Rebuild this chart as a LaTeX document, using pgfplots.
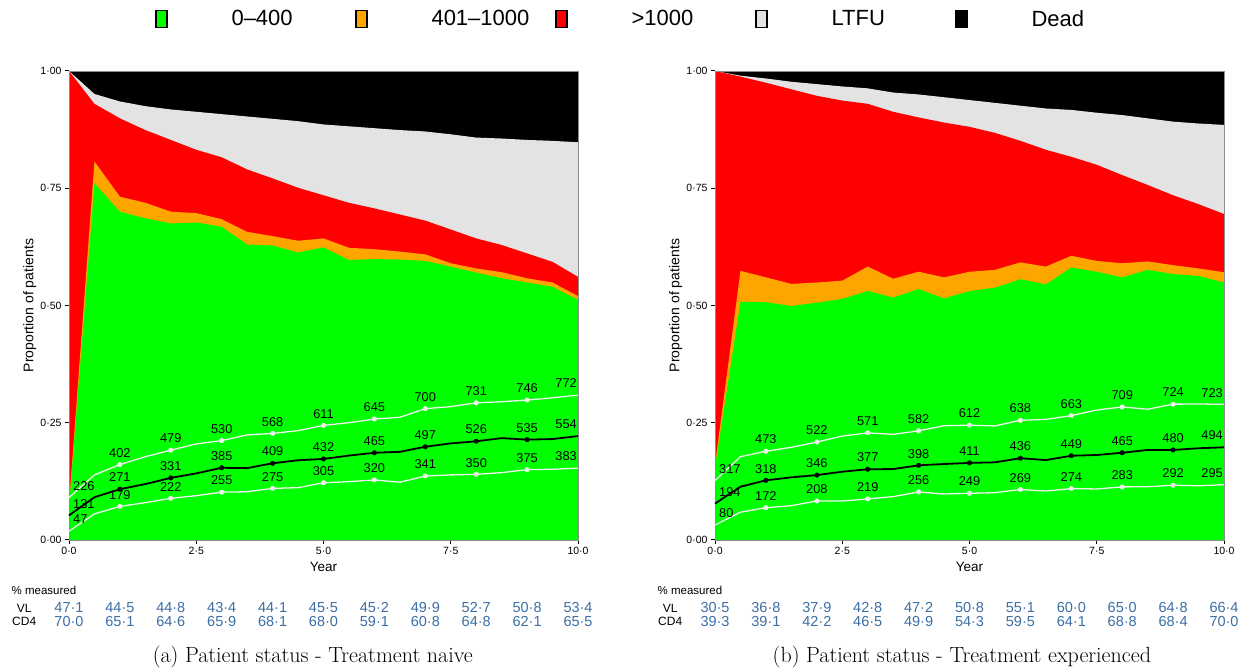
\documentclass[border=0pt]{standalone}
\usepackage{pgfplots}
\pgfplotsset{compat=1.18}
\usepackage{pgfplotstable}
\usepackage{fontspec}
\newfontfamily\lsans{Liberation Sans}
\newcommand{\fs}[1]{\lsans\fontsize{#1bp}{#1bp}\selectfont}

\definecolor{cgreen}{RGB}{0,255,0}
\definecolor{corange}{RGB}{255,165,0}
\definecolor{cred}{RGB}{255,0,0}
\definecolor{cltfu}{RGB}{227,227,227}
\definecolor{cwhite}{RGB}{240,240,240}
\definecolor{cblue}{RGB}{60,110,165}
\definecolor{cframe}{RGB}{140,140,140}

% status boundaries: lt = top of LTFU, rd = top of >1000, or = top of 401-1000, gr = top of 0-400
\pgfplotstableread{
t    lt    rd    or    gr
0    1.000 1.000 0.075 0.070
0.5  0.951 0.930 0.807 0.761
1    0.935 0.899 0.732 0.700
1.5  0.925 0.874 0.719 0.686
2    0.918 0.853 0.700 0.675
2.5  0.913 0.832 0.697 0.677
3    0.908 0.816 0.684 0.668
3.5  0.903 0.790 0.657 0.630
4    0.898 0.771 0.648 0.628
4.5  0.893 0.751 0.638 0.613
5    0.886 0.735 0.643 0.624
5.5  0.882 0.719 0.623 0.597
6    0.878 0.707 0.620 0.599
6.5  0.874 0.694 0.615 0.598
7    0.871 0.681 0.609 0.595
7.5  0.865 0.662 0.590 0.583
8    0.858 0.643 0.579 0.570
8.5  0.856 0.629 0.571 0.558
9    0.853 0.611 0.558 0.549
9.5  0.851 0.593 0.549 0.540
10   0.848 0.561 0.520 0.512
}\naivestat

\pgfplotstableread{
t    lt    rd    or    gr
0    1.000 1.000 0.160 0.155
0.5  0.990 0.988 0.574 0.508
1    0.984 0.975 0.560 0.507
1.5  0.977 0.961 0.546 0.499
2    0.972 0.947 0.549 0.506
2.5  0.967 0.937 0.553 0.514
3    0.963 0.930 0.583 0.531
3.5  0.954 0.913 0.557 0.517
4    0.950 0.901 0.572 0.535
4.5  0.944 0.890 0.560 0.515
5    0.938 0.881 0.572 0.531
5.5  0.932 0.868 0.576 0.538
6    0.926 0.851 0.592 0.556
6.5  0.920 0.832 0.583 0.545
7    0.917 0.817 0.606 0.581
7.5  0.911 0.800 0.595 0.572
8    0.906 0.778 0.590 0.560
8.5  0.899 0.757 0.594 0.576
9    0.892 0.735 0.586 0.567
9.5  0.888 0.716 0.579 0.563
10   0.885 0.695 0.571 0.549
}\expstat

% CD4 (cells/uL): lower, median, upper
\pgfplotstableread{
t    lo   md   hi
0    47   131  226
0.5  139  228  347
1    179  271  402
1.5  199  298  444
2    222  331  479
2.5  236  355  512
3    255  385  530
3.5  257  383  560
4    275  409  568
4.5  279  425  583
5    305  432  611
5.5  311  450  625
6    320  465  645
6.5  308  470  654
7    341  497  700
7.5  347  515  711
8    350  526  731
8.5  359  543  737
9    375  535  746
9.5  377  538  758
10   383  554  772
}\naivecd

\pgfplotstableread{
t    lo   md   hi
0    80   194  317
0.5  148  284  444
1    172  318  473
1.5  183  334  494
2    208  346  522
2.5  208  364  554
3    219  377  571
3.5  231  378  563
4    256  398  582
4.5  245  405  609
5    249  411  612
5.5  252  414  608
6    269  436  638
6.5  261  426  643
7    274  449  663
7.5  272  453  693
8    283  465  709
8.5  284  480  697
9    292  480  724
9.5  289  489  725
10   295  494  723
}\expcd

% % measured (row positions vy, cy in CD4-axis units)
\pgfplotstableread{
t   vy    vl    cy    cd
0   -362  47.1  -432  70.0
1   -362  44.5  -432  65.1
2   -362  44.8  -432  64.6
3   -362  43.4  -432  65.9
4   -362  44.1  -432  68.1
5   -362  45.5  -432  68.0
6   -362  45.2  -432  59.1
7   -362  49.9  -432  60.8
8   -362  52.7  -432  64.8
9   -362  50.8  -432  62.1
10  -362  53.4  -432  65.5
}\naivemeas

\pgfplotstableread{
t   vy    vl    cy    cd
0   -362  30.5  -432  39.3
1   -362  36.8  -432  39.1
2   -362  37.9  -432  42.2
3   -362  42.8  -432  46.5
4   -362  47.2  -432  49.9
5   -362  50.8  -432  54.3
6   -362  55.1  -432  59.5
7   -362  60.0  -432  64.1
8   -362  65.0  -432  68.8
9   -362  64.8  -432  68.4
10  -362  66.4  -432  70.0
}\expmeas

\pgfplotsset{
  panel/.style={
    scale only axis, width=509bp, height=469bp, anchor=south west,
    xmin=0, xmax=10, ymin=0, ymax=1,
    axis on top, clip=false,
    xtick={0,2.5,5,7.5,10}, ytick={0,0.25,0.5,0.75,1},
    tick pos=left, tick align=outside, major tick length=4bp,
    tick style={black, line width=1bp},
    axis line style={cframe, line width=0.8bp},
    xticklabel style={font=\fs{10.5}, /pgf/number format/.cd, fixed, fixed zerofill, precision=1, dec sep={·}, assume math mode=true},
    yticklabel style={font=\fs{10.5}, /pgf/number format/.cd, fixed, fixed zerofill, precision=2, dec sep={·}, assume math mode=true},
    xlabel={Year},
    xlabel style={font=\fs{13.5}, at={(axis description cs:0.5,-0.058)}, anchor=center},
    ylabel={Proportion of patients},
    ylabel style={font=\fs{14}, at={(axis description cs:-0.077,0.5)}, anchor=center},
  },
  cdaxis/.style={
    scale only axis, width=509bp, height=469bp, anchor=south west,
    xmin=0, xmax=10, ymin=0, ymax=2500, hide axis, clip=false,
  },
}

\newcommand{\statfills}[1]{%
  \addplot[fill=black, draw=none, forget plot] coordinates {(0,1) (10,1)} \closedcycle;
  \addplot[fill=cltfu, draw=none, forget plot] table[x=t,y=lt]{#1} \closedcycle;
  \addplot[fill=cred, draw=none, forget plot] table[x=t,y=rd]{#1} \closedcycle;
  \addplot[fill=corange, draw=none, forget plot] table[x=t,y=or]{#1} \closedcycle;
  \addplot[fill=cgreen, draw=none, forget plot] table[x=t,y=gr]{#1} \closedcycle;
}

\newcommand{\cdseries}[4]{%
  \addplot[draw=#3, line width=#4, mark=none] table[x=t,y=#2]{#1};
  \addplot[only marks, mark=*, mark size=2.3bp, mark options={draw=#3, fill=#3},
    x filter/.expression={((x>0.5)&&(x<9.5)&&(x==round(x))) ? x : nan},
    point meta=y,
    nodes near coords={\pgfmathprintnumber[assume math mode=true]{\pgfplotspointmeta}},
    every node near coord/.append style={anchor=south, yshift=6bp, font=\fs{12.8}, text=black, inner sep=1bp}]
    table[x=t,y=#2]{#1};
  \addplot[draw=none, mark=none,
    x filter/.expression={(x<0.25) ? x : nan},
    point meta=y,
    nodes near coords={\pgfmathprintnumber[assume math mode=true]{\pgfplotspointmeta}},
    every node near coord/.append style={anchor=south west, xshift=3bp, yshift=6bp, font=\fs{12.8}, text=black, inner sep=1bp}]
    table[x=t,y=#2]{#1};
  \addplot[draw=none, mark=none,
    x filter/.expression={(x>9.75) ? x : nan},
    point meta=y,
    nodes near coords={\pgfmathprintnumber[assume math mode=true]{\pgfplotspointmeta}},
    every node near coord/.append style={anchor=south east, yshift=6bp, font=\fs{12.8}, text=black, inner sep=1bp}]
    table[x=t,y=#2]{#1};
}

\newcommand{\measrow}[3]{%
  \addplot[draw=none, mark=none, point meta=explicit,
    nodes near coords={\pgfmathprintnumber[fixed, fixed zerofill, precision=1, dec sep={·}, assume math mode=true]{\pgfplotspointmeta}},
    every node near coord/.append style={anchor=center, xshift=0bp, font=\fs{14.5}, text=cblue, inner sep=0pt}]
    table[x=t, y=#2, meta=#3]{#1};
}

\newcommand{\measlabels}{%
  \node[font=\fs{11.5}, anchor=west, inner sep=0pt] at (axis description cs:-0.113,-0.107) {\% measured};
  \node[font=\fs{12}, anchor=center, inner sep=0pt] at (axis description cs:-0.088,-0.145) {VL};
  \node[font=\fs{12}, anchor=center, inner sep=0pt] at (axis description cs:-0.088,-0.173) {CD4};
}

\begin{document}
\begin{tikzpicture}[x=1bp,y=1bp]
\useasboundingbox (0,0) rectangle (1250,672);

% ---------------- (a) naive ----------------
\begin{axis}[panel, at={(69bp,132bp)},
  legend columns=5,
  legend style={at={(axis description cs:0.169,1.111)}, anchor=west, draw=none, fill=none,
    inner sep=0pt, outer sep=0pt, font=\fs{22},
    nodes={inner sep=0pt},
    /tikz/every odd column/.append style={column sep=64bp},
    /tikz/every even column/.append style={column sep=0bp}},
  legend image code/.code={\draw[#1, draw=black, line width=1.5bp] (0bp,-8.5bp) rectangle (11bp,8.5bp);},
]
  \addlegendimage{fill=cgreen}   \addlegendentry{\makebox[123.5bp][l]{0–400}}
  \addlegendimage{fill=corange}  \addlegendentry{\makebox[123.5bp][l]{401–1000}}
  \addlegendimage{fill=cred}     \addlegendentry{\makebox[123.5bp][l]{>1000}}
  \addlegendimage{fill=cltfu}    \addlegendentry{\makebox[123.5bp][l]{LTFU}}
  \addlegendimage{fill=black}    \addlegendentry{\makebox[123.5bp][l]{Dead}}
  \statfills{\naivestat}
  \measlabels
  \node[font=\fontsize{22bp}{26bp}\selectfont] at (axis description cs:0.479,-0.249) {(a) Patient status - Treatment naive};
\end{axis}
\begin{axis}[cdaxis, at={(69bp,132bp)}]
  \cdseries{\naivecd}{hi}{cwhite}{1.3bp}
  \cdseries{\naivecd}{lo}{cwhite}{1.3bp}
  \cdseries{\naivecd}{md}{black}{1.8bp}
  \measrow{\naivemeas}{vy}{vl}
  \measrow{\naivemeas}{cy}{cd}
\end{axis}

% ---------------- (b) experienced ----------------
\begin{axis}[panel, at={(715bp,132bp)}]
  \statfills{\expstat}
  \measlabels
  \node[font=\fontsize{22bp}{26bp}\selectfont] at (axis description cs:0.485,-0.249) {(b) Patient status - Treatment experienced};
\end{axis}
\begin{axis}[cdaxis, at={(715bp,132bp)}]
  \cdseries{\expcd}{hi}{cwhite}{1.3bp}
  \cdseries{\expcd}{lo}{cwhite}{1.3bp}
  \cdseries{\expcd}{md}{black}{1.8bp}
  \measrow{\expmeas}{vy}{vl}
  \measrow{\expmeas}{cy}{cd}
\end{axis}
\end{tikzpicture}
\end{document}
